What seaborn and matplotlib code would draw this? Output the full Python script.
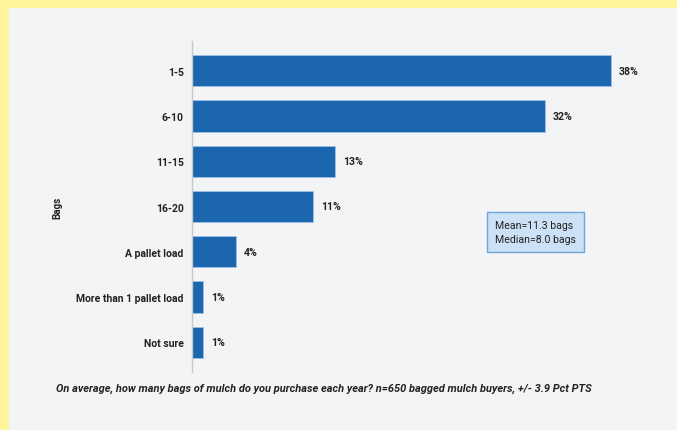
import matplotlib
matplotlib.use("Agg")
import matplotlib.pyplot as plt
import seaborn as sns
import pandas as pd
from matplotlib.patches import Rectangle

categories = ["1-5", "6-10", "11-15", "16-20", "A pallet load",
              "More than 1 pallet load", "Not sure"]
shares = [38, 32, 13, 11, 4, 1, 1]
value_labels = ["38%", "32%", "13%", "11%", "4%", "1%", "1%"]
summary_text = "Mean=11.3 bags\nMedian=8.0 bags"
note_text = ("On average, how many bags of mulch do you purchase each year? "
             "n=650 bagged mulch buyers, +/- 3.9 Pct PTS")

df = pd.DataFrame({"Bags": categories, "Share": shares})

sns.set_theme(style="white")
plt.rcParams["font.family"] = ["Roboto", "DejaVu Sans"]

BG = "#f3f4f6"
BAR = "#1c66b0"
INK = "#222222"

fig = plt.figure(figsize=(6.77, 4.31), dpi=100)
fig.patch.set_facecolor("#fff69c")
# inner panel
fig.patches.append(Rectangle((9 / 677, 0), 1, 1 - 9 / 431,
                             transform=fig.transFigure, facecolor=BG,
                             edgecolor="none", zorder=-10))

ax = fig.add_axes([192 / 677, 1 - 373 / 431, (640 - 192) / 677, (373 - 42) / 431])
ax.set_facecolor(BG)
ax.set_zorder(1)

sns.barplot(data=df, x="Share", y="Bags", orient="h", color=BAR,
            width=0.69, edgecolor="#9cc2e8", linewidth=0.6,
            saturation=1, ax=ax)

ax.set_xlim(0, 40.65)
ax.set_ylim(6.66, -0.66)

for i, (v, lab) in enumerate(zip(shares, value_labels)):
    ax.text(v + 0.7, i, lab, va="center", ha="left", fontsize=7.6,
            fontweight="bold", color=INK)

for side in ["top", "right", "bottom"]:
    ax.spines[side].set_visible(False)
ax.spines["left"].set_color("#c8c8c8")
ax.spines["left"].set_linewidth(1.0)
ax.set_xticks([])
ax.set_xlabel("")
ax.tick_params(axis="y", length=0, pad=6, labelsize=7.5, labelcolor=INK)
for t in ax.get_yticklabels():
    t.set_fontweight("bold")
ax.set_ylabel("Bags", fontsize=7.0, fontweight="bold", color=INK,
              labelpad=0)
ax.yaxis.set_label_coords(-0.289, 0.5)

# summary box
fig.text(495 / 677, 1 - 233 / 431, summary_text, fontsize=7.6,
         color=INK, va="center", ha="left", linespacing=1.45,
         bbox=dict(boxstyle="square,pad=0.75", facecolor="#cce1f5",
                   edgecolor="#6fa3d6", linewidth=1.0))

fig.text(56 / 677, 1 - 389 / 431, note_text, fontsize=7.9, style="italic",
         fontweight="bold", color=INK, va="center", ha="left")

fig.savefig("out.png", dpi=100, facecolor=fig.get_facecolor())
